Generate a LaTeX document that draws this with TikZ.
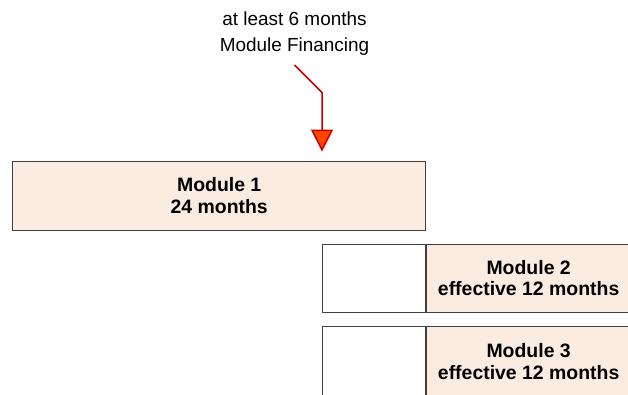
\documentclass[tikz,border=0pt]{standalone}
\usepackage{fontspec}
\setmainfont{Liberation Sans}
\usetikzlibrary{arrows.meta}
\definecolor{modfill}{HTML}{FBECE1}
\definecolor{modline}{HTML}{404040}
\definecolor{arrline}{HTML}{C80000}
\definecolor{arrfill}{HTML}{FF4500}
\tikzset{
  modbox/.style={draw=modline, line width=0.9bp, fill=modfill, inner sep=0pt,
    align=center, font=\bfseries\fontsize{19.5}{21.5}\selectfont},
  blankbox/.style={draw=modline, line width=0.9bp, fill=white, inner sep=0pt},
  note/.style={align=center, inner sep=0pt, font=\fontsize{19}{26}\selectfont},
  finarrow/.style={draw=arrline, line width=1.5bp,
    -{Triangle[width=22bp,length=22bp,fill=arrfill]}}
}
\begin{document}
\begin{tikzpicture}[x=1bp,y=-1bp]
  \useasboundingbox (0,0) rectangle (628,394);
  % financing note and arrow
  \node[note] (fin) at (294.5,33.5) {at least 6 months\\Module Financing};
  \coordinate (s) at (294.5,65);
  \coordinate (b) at (322,92.5);
  % module 1
  \node[modbox, minimum width=413bp, minimum height=69bp] (m1) at (219.2,195.5)
    {Module 1\\24 months};
  \draw[finarrow, shorten >=9bp] (s) -- (b) -- (b |- m1.north);
  % module 2
  \node[blankbox, minimum width=103.5bp, minimum height=68bp] (w2) at (374,278) {};
  \node[modbox, minimum width=204bp, minimum height=68bp, anchor=west] (m2) at (w2.east)
    {Module 2\\effective 12 months};
  % module 3
  \node[blankbox, minimum width=103.5bp, minimum height=70bp] (w3) at (374,361.5) {};
  \node[modbox, minimum width=204bp, minimum height=70bp, anchor=west] (m3) at (w3.east)
    {Module 3\\effective 12 months};
\end{tikzpicture}
\end{document}
